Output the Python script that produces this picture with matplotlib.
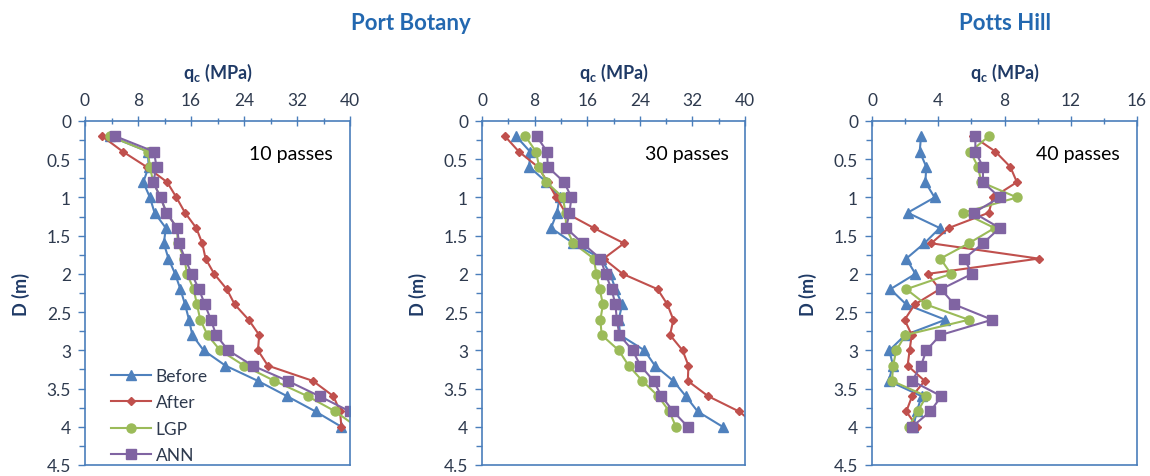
import matplotlib
matplotlib.use("Agg")
import matplotlib.pyplot as plt
from matplotlib.ticker import MultipleLocator, FixedLocator

plt.rcParams['font.family'] = ['Lato', 'DejaVu Sans']
plt.rcParams['mathtext.fontset'] = 'custom'
plt.rcParams['mathtext.bf'] = 'Lato:bold'
plt.rcParams['mathtext.rm'] = 'Lato'

depth = [0.2, 0.4, 0.6, 0.8, 1.0, 1.2, 1.4, 1.6, 1.8, 2.0,
         2.2, 2.4, 2.6, 2.8, 3.0, 3.2, 3.4, 3.6, 3.8, 4.0]

series_names = ["Before", "After", "LGP", "ANN"]

# Port Botany, 10 passes
pb10_before = [3.8, 9.5, 9.6, 8.8, 9.8, 10.5, 12.2, 11.9, 12.6, 13.6,
               14.4, 15.1, 15.7, 16.2, 17.9, 21.2, 26.1, 30.5, 34.8, 38.7]
pb10_after = [2.6, 5.7, 9.3, 12.4, 13.8, 15.1, 16.8, 17.7, 18.2, 19.5,
              21.4, 22.6, 24.7, 26.3, 26.1, 27.6, 34.4, 37.5, 38.5, 38.7]
pb10_lgp = [3.8, 9.5, 9.8, 10.3, 11.4, 12.3, 13.9, 14.0, 15.0, 15.4,
            16.4, 16.9, 17.4, 18.5, 20.4, 24.0, 28.6, 33.6, 37.8, 41.0]
pb10_ann = [4.6, 10.4, 10.8, 10.3, 11.4, 12.3, 13.9, 14.2, 15.1, 16.1,
            17.2, 18.1, 19.0, 19.8, 21.6, 25.3, 30.6, 35.4, 40.0, 41.5]

# Port Botany, 30 passes
pb30_before = [5.2, 7.3, 7.2, 9.8, 11.8, 11.4, 10.5, 13.9, 18.1, 19.5,
               20.3, 21.3, 20.8, 21.0, 24.7, 26.3, 29.1, 31.0, 32.8, 36.6]
pb30_after = [3.5, 5.6, 8.5, 10.0, 11.3, 12.7, 17.0, 21.6, 18.5, 21.4,
              26.7, 28.2, 29.1, 28.6, 30.5, 31.4, 31.3, 34.4, 39.1, 42.0]
pb30_lgp = [6.6, 8.2, 8.7, 9.8, 12.3, 12.7, 12.8, 13.9, 17.0, 17.4,
            17.9, 18.4, 18.0, 18.2, 20.8, 22.3, 24.4, 26.8, 28.5, 29.5]
pb30_ann = [8.3, 9.9, 10.0, 12.5, 13.6, 13.3, 12.8, 15.3, 18.0, 18.8,
            19.7, 20.3, 20.5, 20.9, 22.9, 24.1, 26.1, 27.3, 29.1, 31.3]

# Potts Hill, 40 passes
ph40_before = [2.96, 2.88, 3.28, 3.22, 3.78, 2.15, 4.09, 3.16, 2.07, 2.62,
               1.11, 2.07, 4.43, 2.0, 1.05, 1.27, 1.0, 3.0, 2.7, 2.5]
ph40_after = [6.1, 7.45, 8.35, 8.75, 7.3, 7.05, 4.63, 3.58, 10.06, 3.36,
              4.09, 2.58, 1.97, 2.4, 2.27, 2.15, 3.18, 2.42, 2.07, 2.72]
ph40_lgp = [7.05, 5.94, 6.4, 6.6, 8.75, 5.5, 7.4, 5.84, 4.13, 4.77,
            2.07, 3.26, 5.84, 2.01, 1.47, 1.27, 1.21, 3.28, 2.76, 2.21]
ph40_ann = [6.24, 6.24, 6.70, 6.70, 7.71, 6.14, 7.71, 6.70, 5.57, 6.04,
            4.17, 4.97, 7.25, 4.13, 3.28, 2.96, 2.42, 4.19, 3.52, 2.42]

panel_labels = ["10 passes", "30 passes", "40 passes"]
panel_data = [
    [pb10_before, pb10_after, pb10_lgp, pb10_ann],
    [pb30_before, pb30_after, pb30_lgp, pb30_ann],
    [ph40_before, ph40_after, ph40_lgp, ph40_ann],
]
x_max = [40, 40, 16]
x_major = [8, 8, 4]
x_minor = [4, 4, 2]
y_ticks = [0, 0.5, 1, 1.5, 2, 2.5, 3, 3.5, 4, 4.5]
y_tick_labels = ["0", "0.5", "1", "1.5", "2", "2.5", "3", "3.5", "4", "4.5"]

colors = ["#4F81BD", "#C0504D", "#9BBB59", "#8064A2"]
markers = ["^", "D", "o", "s"]
msizes = [6.5, 4.5, 6.5, 6.5]
spine_col = "#4A7EBB"
text_col = "#2E3A4E"
label_col = "#1F3A66"
title_col = "#2368B0"

W, H = 1150, 477
fig = plt.figure(figsize=(W / 100, H / 100), dpi=100)

# pixel boxes: left, right, top, bottom
boxes = [(85, 350, 122, 466), (482, 745, 122, 466), (872, 1137, 122, 466)]

for i, (l, r, t, b) in enumerate(boxes):
    ax = fig.add_axes([l / W, (H - b) / H, (r - l) / W, (b - t) / H])
    for k in range(4):
        ax.plot(panel_data[i][k], depth, color=colors[k], marker=markers[k],
                markersize=msizes[k], linewidth=1.5, label=series_names[k])
    ax.set_xlim(0, x_max[i])
    ax.set_ylim(4.5, 0)
    ax.xaxis.tick_top()
    ax.xaxis.set_label_position("top")
    ax.xaxis.set_major_locator(MultipleLocator(x_major[i]))
    ax.xaxis.set_minor_locator(MultipleLocator(x_minor[i]))
    ax.yaxis.set_major_locator(FixedLocator(y_ticks))
    ax.set_yticklabels(y_tick_labels)
    ax.yaxis.set_minor_locator(MultipleLocator(0.25))
    ax.tick_params(axis="x", which="major", direction="inout", length=7,
                   width=1, color=spine_col, labelsize=12.5, labelcolor=text_col, pad=6)
    ax.tick_params(axis="x", which="minor", direction="inout", length=5,
                   width=1, color=spine_col)
    ax.tick_params(axis="y", which="major", direction="out", length=5,
                   width=1, color=spine_col, labelsize=12.5, labelcolor=text_col, pad=5)
    ax.tick_params(axis="y", which="minor", direction="out", length=4,
                   width=1, color=spine_col)
    for s in ax.spines.values():
        s.set_color(spine_col)
        s.set_linewidth(1.2)
    ax.set_xlabel(r"$\mathbf{q}_\mathbf{c}$ (MPa)", fontsize=13,
                  fontweight="bold", color=label_col, labelpad=10)
    ax.set_ylabel("D (m)", fontsize=13, fontweight="bold", color=label_col,
                  labelpad=12)
    ax.text(0.62, 0.905, panel_labels[i], transform=ax.transAxes,
            fontsize=14, color="black", va="center", ha="left")
    if i == 0:
        ax.legend(loc="lower left", bbox_to_anchor=(0.06, -0.025), frameon=False,
                  fontsize=12.5, handlelength=2.3, handletextpad=0.25,
                  labelspacing=0.6, labelcolor=text_col, borderaxespad=0.2)

fig.text(411 / W, 1 - 24 / H, "Port Botany", fontsize=16, fontweight="bold",
         color=title_col, ha="center", va="center")
fig.text(1005 / W, 1 - 24 / H, "Potts Hill", fontsize=16, fontweight="bold",
         color=title_col, ha="center", va="center")

fig.savefig("out.png", dpi=100)
